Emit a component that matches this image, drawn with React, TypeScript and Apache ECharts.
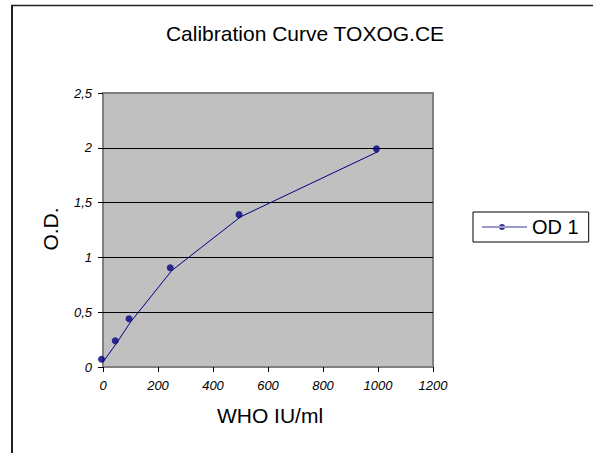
import React, { useEffect, useRef } from "react";
import * as echarts from "echarts";

const titleText = "Calibration Curve TOXOG.CE";
const xAxisName = "WHO IU/ml";
const yAxisName = "O.D.";
const seriesName = "OD 1";
const concentrations = [0, 50, 100, 250, 500, 1000];
const markerValues = [0.07, 0.24, 0.44, 0.905, 1.39, 1.99];
const lineValues = [0.045, 0.22, 0.41, 0.88, 1.37, 1.965];
const xTicks = [0, 200, 400, 600, 800, 1000, 1200];
const yTicks = [0, 0.5, 1, 1.5, 2, 2.5];

const FONT = 'Arial, "Liberation Sans", sans-serif';
const NAVY = "#000080";

export default function App() {
  const ref = useRef<HTMLDivElement>(null);
  useEffect(() => {
    if (!ref.current) return;
    const chart = echarts.init(ref.current, null, { renderer: "svg" });
    const legendIcon =
      "path://M0,3L45,3L45,4L0,4Z M17,3.5a3,3 0 1,0 6,0a3,3 0 1,0 -6,0Z";
    chart.setOption({
      animation: false,
      textStyle: { fontFamily: FONT, color: "#000" },
      grid: {
        left: 103,
        top: 93,
        width: 330,
        height: 274,
        show: true,
        backgroundColor: "#c0c0c0",
        borderColor: "#808080",
        borderWidth: 2,
      },
      legend: {
        data: [{ name: seriesName, icon: legendIcon, itemStyle: { color: NAVY } }],
        left: 473,
        top: 212,
        orient: "vertical",
        itemWidth: 45,
        itemHeight: 7,
        itemGap: 0,
        padding: [5, 10, 5, 9],
        borderColor: "#000",
        borderWidth: 1,
        backgroundColor: "#fff",
        textStyle: { fontSize: 20, fontFamily: FONT, color: "#000", lineHeight: 20, padding: [0, 0, 0, 0] },
      },
      xAxis: {
        type: "value",
        min: xTicks[0],
        max: xTicks[xTicks.length - 1],
        interval: xTicks[1] - xTicks[0],
        axisLine: { show: false },
        axisTick: { show: true, length: 5, lineStyle: { color: "#000", width: 1 } },
        splitLine: { show: false },
        axisLabel: {
          margin: 12,
          fontSize: 13,
          fontStyle: "italic",
          fontFamily: FONT,
          color: "#000",
          formatter: (v: number) => String(v),
        },
      },
      yAxis: {
        type: "value",
        min: yTicks[0],
        max: yTicks[yTicks.length - 1],
        interval: yTicks[1] - yTicks[0],
        axisLine: { show: false },
        axisTick: { show: true, length: 5, lineStyle: { color: "#000", width: 1 } },
        splitLine: {
          show: true,
          showMinLine: false,
          showMaxLine: false,
          lineStyle: { color: "#000", width: 1 },
        },
        axisLabel: {
          margin: 11,
          fontSize: 13,
          fontStyle: "italic",
          fontFamily: FONT,
          color: "#000",
          formatter: (v: number) => String(v).replace(".", ","),
        },
      },
      series: [
        {
          name: "fit",
          type: "line",
          data: concentrations.map((x, i) => [x, lineValues[i]]),
          showSymbol: false,
          symbol: "none",
          lineStyle: { color: NAVY, width: 1 },
          itemStyle: { color: NAVY },
          z: 3,
        },
        {
          name: seriesName,
          type: "scatter",
          data: concentrations.map((x, i) => [x, markerValues[i]]),
          symbol: "circle",
          symbolSize: 7,
          symbolOffset: [-1.5, 0],
          itemStyle: { color: NAVY },
          z: 4,
        },
      ],
      graphic: [
        {
          type: "line",
          shape: { x1: 12, y1: 5, x2: 12, y2: 460 },
          style: { stroke: "#222", lineWidth: 2 },
        },
        {
          type: "line",
          shape: { x1: 11, y1: 5.5, x2: 600, y2: 5.5 },
          style: { stroke: "#222", lineWidth: 1.5 },
        },
        {
          type: "text",
          x: 305,
          y: 33,
          style: {
            text: titleText,
            fontSize: 21,
            fontFamily: FONT,
            fill: "#000",
            align: "center",
            verticalAlign: "middle",
          },
        },
        {
          type: "text",
          x: 270,
          y: 415,
          style: {
            text: xAxisName,
            fontSize: 21,
            fontFamily: FONT,
            fill: "#000",
            align: "center",
            verticalAlign: "middle",
          },
        },
        {
          type: "text",
          x: 50,
          y: 229,
          rotation: Math.PI / 2,
          style: {
            text: yAxisName,
            fontSize: 21,
            fontFamily: FONT,
            fill: "#000",
            align: "center",
            verticalAlign: "middle",
          },
        },
      ],
    });
    return () => chart.dispose();
  }, []);
  return (
    <div
      ref={ref}
      style={{ position: "absolute", left: 0, top: 0, width: 593, height: 453, background: "#fff" }}
    />
  );
}
